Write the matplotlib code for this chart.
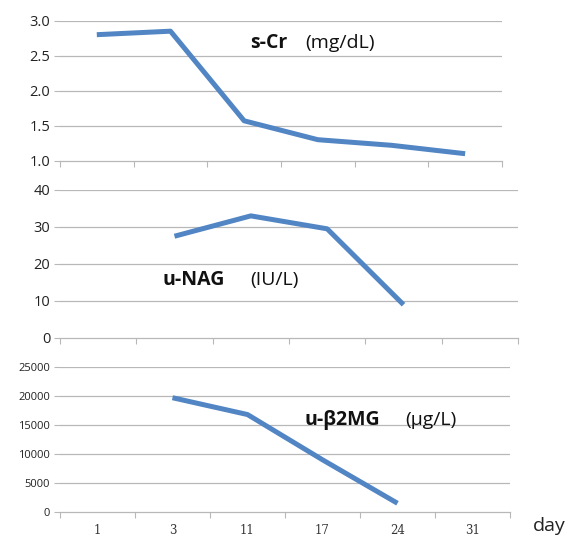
import numpy as np
import matplotlib.pyplot as plt

days = ['1', '3', '11', '17', '24', '31']
scr = [2.80, 2.85, 1.57, 1.30, 1.22, 1.10]
unag = [np.nan, 27.5, 33.0, 29.5, 9.0, np.nan]
ub2mg = [np.nan, 19700, 16800, 9000, 1500, np.nan]

blue = '#5185c4'
grid = '#b8b8b8'

fig = plt.figure(figsize=(5.69, 5.40), dpi=100)
ax1 = fig.add_axes([0.1054, 0.7024, 0.7768, 0.2593])
ax2 = fig.add_axes([0.1054, 0.3741, 0.8050, 0.2741])
ax3 = fig.add_axes([0.1054, 0.0519, 0.7909, 0.2685])

x = np.arange(len(days))
for ax, vals, yt in [(ax1, scr, [1.0, 1.5, 2.0, 2.5, 3.0]),
                     (ax2, unag, [0, 10, 20, 30, 40]),
                     (ax3, ub2mg, [0, 5000, 10000, 15000, 20000, 25000])]:
    ax.plot(x, vals, color=blue, lw=3.6, solid_capstyle='butt')
    ax.set_xlim(-0.5, len(days) - 0.5)
    ax.set_ylim(yt[0], yt[-1])
    ax.set_yticks(yt)
    for v in yt[1:]:
        ax.axhline(v, color=grid, lw=0.9, zorder=0)
    for s in ['top', 'right', 'left']:
        ax.spines[s].set_visible(False)
    ax.spines['bottom'].set_color(grid)
    ax.spines['bottom'].set_linewidth(0.9)
    ax.set_xticks(np.arange(-0.5, len(days)))
    ax.set_xticklabels([])
    ax.tick_params(axis='x', which='major', length=4, color=grid, direction='out')
    ax.tick_params(axis='y', length=4, color=grid, labelcolor='#222222', pad=3)

ax1.set_yticklabels(['1.0', '1.5', '2.0', '2.5', '3.0'])
for lab in ax1.get_yticklabels() + ax2.get_yticklabels():
    lab.set_fontsize(10.5); lab.set_family('Open Sans')
for lab in ax3.get_yticklabels():
    lab.set_fontsize(8); lab.set_family('Open Sans')

ax3.set_xticks(x, minor=True)
ax3.set_xticklabels(days, minor=True, fontsize=8.5, family='DejaVu Serif', color='#333333')
ax3.tick_params(axis='x', which='minor', length=0, pad=9)
fig.text(0.937, 0.017, 'day', fontsize=14, family='Open Sans', color='#222222')

kw = dict(fontsize=14, family='Open Sans', va='center', color='#111111')
ax1.text(0.43, 0.84, 's-Cr', transform=ax1.transAxes, fontweight='bold', **kw)
ax1.text(0.554, 0.84, '(mg/dL)', transform=ax1.transAxes, **kw)
ax2.text(0.223, 0.39, 'u-NAG', transform=ax2.transAxes, fontweight='bold', **kw)
ax2.text(0.415, 0.39, '(IU/L)', transform=ax2.transAxes, **kw)
ax3.text(0.544, 0.634, 'u-β2MG', transform=ax3.transAxes, fontweight='bold', **kw)
ax3.text(0.767, 0.634, '(µg/L)', transform=ax3.transAxes, **kw)

fig.savefig('out.png', dpi=100)
